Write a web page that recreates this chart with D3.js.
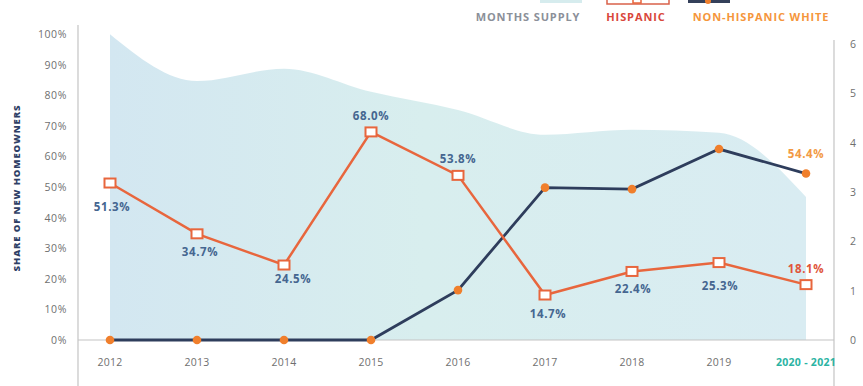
<!DOCTYPE html>
<html>
<head>
<meta charset="UTF-8">
<script src="https://cdn.jsdelivr.net/npm/d3@7"></script>
<style>
  body { margin: 0; background: #fff; font-family: "Open Sans", Lato, sans-serif; }
  svg text { font-family: "Open Sans", Lato, sans-serif; }
</style>
</head>
<body>
<svg id="chart" width="863" height="386"></svg>
<script>
  // data
  var years = ["2012", "2013", "2014", "2015", "2016", "2017", "2018", "2019", "2020 - 2021"];
  var hispanic = [51.3, 34.7, 24.5, 68.0, 53.8, 14.7, 22.4, 25.3, 18.1];
  var nonHispWhite = [0, 0, 0, 0, 16.3, 49.8, 49.3, 62.4, 54.4];
  var monthsSupply = [6.2, 5.25, 5.5, 5.03, 4.66, 4.16, 4.26, 4.2, 2.9];
  var pctTicks = [0, 10, 20, 30, 40, 50, 60, 70, 80, 90, 100];
  var supplyTicks = [0, 1, 2, 3, 4, 5, 6];

  // label placement: above or below the hispanic marker
  var hispLabelPos = ["below", "below", "below", "above", "above", "below", "below", "below", "above"];

  var svg = d3.select("#chart");

  var x = d3.scalePoint().domain(years).range([110, 806]);
  var yPct = d3.scaleLinear().domain([0, 100]).range([340, 34]);
  var ySup = d3.scaleLinear().domain([0, 6]).range([340, 44]);

  // gradient for months supply area
  var defs = svg.append("defs");
  var grad = defs.append("linearGradient").attr("id", "supplyGrad")
    .attr("x1", "0%").attr("x2", "100%").attr("y1", "0%").attr("y2", "0%");
  grad.append("stop").attr("offset", "0%").attr("stop-color", "#d3e7f1");
  grad.append("stop").attr("offset", "45%").attr("stop-color", "#d8eeee");
  grad.append("stop").attr("offset", "100%").attr("stop-color", "#d9ecf2");

  // months supply area
  var area = d3.area()
    .x(function (d, i) { return x(years[i]); })
    .y0(ySup(0))
    .y1(function (d) { return ySup(d); })
    .curve(d3.curveMonotoneX);

  svg.append("path")
    .datum(monthsSupply)
    .attr("d", area)
    .attr("fill", "url(#supplyGrad)");

  // axes lines
  svg.append("line").attr("x1", 78).attr("x2", 78).attr("y1", 25).attr("y2", 386)
    .attr("stroke", "#c4c4c4").attr("stroke-width", 1.2);
  svg.append("line").attr("x1", 834).attr("x2", 834).attr("y1", 40).attr("y2", 386)
    .attr("stroke", "#c4c4c4").attr("stroke-width", 1.2);
  svg.append("line").attr("x1", 78).attr("x2", 834).attr("y1", yPct(0)).attr("y2", yPct(0))
    .attr("stroke", "#c4c4c4").attr("stroke-width", 1.2);

  // left axis labels
  svg.append("g").selectAll("text").data(pctTicks).enter().append("text")
    .attr("x", 67).attr("y", function (d) { return yPct(d) + 4; })
    .attr("text-anchor", "end")
    .attr("font-size", 10.5).attr("letter-spacing", 0.6).attr("fill", "#6f6f6f")
    .text(function (d) { return d + "%"; });

  // right axis labels
  svg.append("g").selectAll("text").data(supplyTicks).enter().append("text")
    .attr("x", 853).attr("y", function (d) { return ySup(d) + 4; })
    .attr("text-anchor", "middle")
    .attr("font-size", 10.5).attr("fill", "#6f6f6f")
    .text(function (d) { return d; });

  // x labels
  svg.append("g").selectAll("text").data(years).enter().append("text")
    .attr("x", function (d) { return x(d); }).attr("y", 366)
    .attr("text-anchor", "middle")
    .attr("font-size", 10.5).attr("letter-spacing", 0.3)
    .attr("font-weight", function (d, i) { return i == years.length - 1 ? 700 : 400; })
    .attr("fill", function (d, i) { return i == years.length - 1 ? "#2bb3a3" : "#6f6f6f"; })
    .text(function (d) { return d; });

  // y axis title
  svg.append("text")
    .attr("transform", "translate(20,188) rotate(-90)")
    .attr("text-anchor", "middle")
    .attr("font-size", 9.5).attr("font-weight", 800).attr("letter-spacing", 0.9)
    .attr("fill", "#2f3f66")
    .text("SHARE OF NEW HOMEOWNERS");

  // non-hispanic white line
  var lineNhw = d3.line()
    .x(function (d, i) { return x(years[i]); })
    .y(function (d) { return yPct(d); });

  svg.append("path").datum(nonHispWhite)
    .attr("d", lineNhw)
    .attr("fill", "none").attr("stroke", "#2e3d5c").attr("stroke-width", 2.8);

  svg.append("g").selectAll("circle").data(nonHispWhite).enter().append("circle")
    .attr("cx", function (d, i) { return x(years[i]); })
    .attr("cy", function (d) { return yPct(d); })
    .attr("r", 4.3).attr("fill", "#f07f2c");

  // hispanic line
  svg.append("path").datum(hispanic)
    .attr("d", lineNhw)
    .attr("fill", "none").attr("stroke", "#e8663d").attr("stroke-width", 2.5);

  svg.append("g").selectAll("rect").data(hispanic).enter().append("rect")
    .attr("x", function (d, i) { return x(years[i]) - 5.5; })
    .attr("y", function (d) { return yPct(d) - 4.5; })
    .attr("width", 11).attr("height", 9)
    .attr("fill", "#fff").attr("stroke", "#e8663d").attr("stroke-width", 2);

  // hispanic value labels
  svg.append("g").selectAll("text").data(hispanic).enter().append("text")
    .attr("x", function (d, i) { return x(years[i]) + [2, 3, 9, 0, 0, 3, 1, 1, 0][i]; })
    .attr("y", function (d, i) {
      return yPct(d) + (hispLabelPos[i] == "above" ? -12 : [28, 22, 18, 0, 0, 23, 22, 27, 0][i]);
    })
    .attr("text-anchor", "middle")
    .attr("font-size", 11.5).attr("font-weight", 700).attr("letter-spacing", 0.6)
    .attr("fill", function (d, i) { return i == hispanic.length - 1 ? "#e0553a" : "#456690"; })
    .text(function (d) { return d.toFixed(1) + "%"; });

  // last non-hispanic white label
  var last = nonHispWhite.length - 1;
  svg.append("text")
    .attr("x", x(years[last])).attr("y", yPct(nonHispWhite[last]) - 16)
    .attr("text-anchor", "middle")
    .attr("font-size", 11.5).attr("font-weight", 700).attr("letter-spacing", 0.6)
    .attr("fill", "#f29a45")
    .text(nonHispWhite[last].toFixed(1) + "%");

  // legend (swatches sit mostly above the frame)
  var legend = svg.append("g");
  legend.append("rect").attr("x", 540).attr("y", -10).attr("width", 42).attr("height", 13)
    .attr("fill", "#d6ecee");
  legend.append("rect").attr("x", 607).attr("y", -10).attr("width", 62).attr("height", 14)
    .attr("fill", "#fff").attr("stroke", "#d9614a").attr("stroke-width", 1.5);
  legend.append("rect").attr("x", 633).attr("y", -4).attr("width", 8).attr("height", 7)
    .attr("fill", "#fff").attr("stroke", "#e8663d").attr("stroke-width", 1.5);
  legend.append("rect").attr("x", 688).attr("y", -10).attr("width", 42).attr("height", 13)
    .attr("fill", "#34405a");
  legend.append("circle").attr("cx", 708).attr("cy", 1).attr("r", 3).attr("fill", "#f07f2c");

  var legendItems = [
    { label: "MONTHS SUPPLY", x: 528, color: "#8b9099" },
    { label: "HISPANIC", x: 636, color: "#d9473c" },
    { label: "NON-HISPANIC WHITE", x: 761, color: "#f5963c" }
  ];
  legend.selectAll("text.leg").data(legendItems).enter().append("text")
    .attr("class", "leg")
    .attr("x", function (d) { return d.x; }).attr("y", 21)
    .attr("text-anchor", "middle")
    .attr("font-size", 11).attr("font-weight", 700).attr("letter-spacing", 0.9)
    .attr("fill", function (d) { return d.color; })
    .text(function (d) { return d.label; });
</script>
</body>
</html>
